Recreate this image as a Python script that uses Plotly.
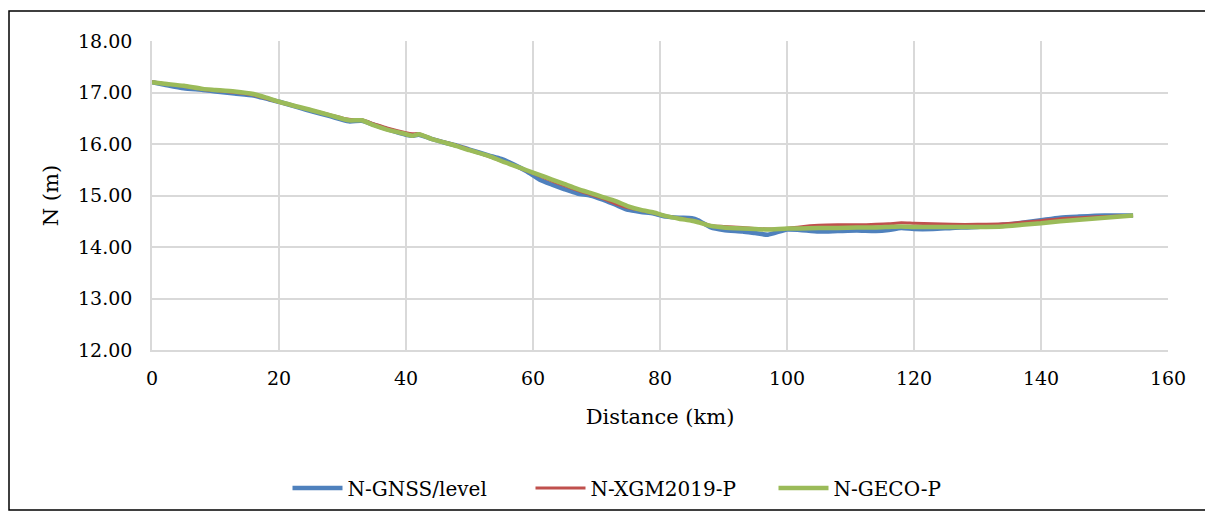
import plotly.graph_objects as go

distance_km = [0, 2, 5, 8, 10, 13, 16, 18, 20, 25, 28, 31, 33, 35, 37, 40, 41, 42, 44, 46,
               48, 50, 53, 55, 57, 59, 61, 63, 65, 67, 69, 71, 73, 75, 77, 79, 81, 83, 85, 86,
               88, 90, 93, 95, 97, 100, 102, 105, 108, 111, 114, 116, 118, 120, 123, 126, 130,
               134, 137, 140, 143, 146, 150, 154.5]

n_gnss_level = [17.20, 17.15, 17.08, 17.05, 17.02, 16.98, 16.94, 16.88, 16.82, 16.64, 16.54, 16.44,
                16.45, 16.37, 16.29, 16.18, 16.16, 16.18, 16.10, 16.03, 15.97, 15.89, 15.78, 15.71,
                15.60, 15.47, 15.31, 15.21, 15.12, 15.04, 15.00, 14.92, 14.82, 14.72, 14.68, 14.65,
                14.59, 14.57, 14.56, 14.52, 14.38, 14.33, 14.30, 14.27, 14.24, 14.34, 14.33, 14.30,
                14.31, 14.32, 14.31, 14.33, 14.37, 14.35, 14.35, 14.37, 14.39, 14.43, 14.47, 14.52,
                14.57, 14.59, 14.61, 14.61]

n_xgm2019_p = [17.21, 17.17, 17.12, 17.06, 17.04, 17.00, 16.95, 16.88, 16.81, 16.66, 16.57, 16.48,
               16.47, 16.39, 16.31, 16.22, 16.20, 16.20, 16.11, 16.04, 15.97, 15.89, 15.76, 15.67,
               15.58, 15.48, 15.38, 15.28, 15.19, 15.10, 15.02, 14.94, 14.84, 14.76, 14.71, 14.66,
               14.60, 14.56, 14.52, 14.49, 14.42, 14.40, 14.38, 14.36, 14.35, 14.36, 14.39, 14.42,
               14.43, 14.43, 14.44, 14.45, 14.47, 14.46, 14.45, 14.44, 14.44, 14.45, 14.48, 14.51,
               14.55, 14.57, 14.59, 14.61]

n_geco_p = [17.20, 17.17, 17.13, 17.07, 17.05, 17.02, 16.97, 16.90, 16.82, 16.66, 16.56, 16.46,
            16.46, 16.36, 16.28, 16.19, 16.16, 16.19, 16.10, 16.03, 15.96, 15.88, 15.77, 15.67,
            15.58, 15.49, 15.40, 15.31, 15.22, 15.13, 15.05, 14.97, 14.89, 14.79, 14.72, 14.67,
            14.60, 14.55, 14.51, 14.48, 14.41, 14.38, 14.36, 14.35, 14.34, 14.36, 14.36, 14.37,
            14.37, 14.38, 14.38, 14.39, 14.40, 14.39, 14.39, 14.39, 14.39, 14.40, 14.43, 14.46,
            14.50, 14.53, 14.57, 14.61]

x_ticks = [0, 20, 40, 60, 80, 100, 120, 140, 160]
y_ticks = [12, 13, 14, 15, 16, 17, 18]

FONT = "DejaVu Serif, Liberation Serif, serif"
FS_TICK = 19
FS_TITLE = 21
FS_LEG = 20

# page has an 8px body margin; figure coordinates are page coordinates minus 8
W, H = 1205, 507
L, T = 144, 33
PW, PH = 1016, 309
R = W - L - PW
B = H - T - PH

fig = go.Figure()
series = [
    ("N-GNSS/level", n_gnss_level, "#4F81BD", 4.5),
    ("N-XGM2019-P", n_xgm2019_p, "#C0504D", 3.0),
    ("N-GECO-P", n_geco_p, "#9BBB59", 4.5),
]
for name, vals, color, w in series:
    fig.add_trace(go.Scatter(
        x=distance_km, y=vals, name=name, mode="lines",
        line=dict(color=color, width=w, shape="spline", smoothing=0.6),
    ))

def px_x(fx):
    return (fx - L) / PW

def px_y(fy):
    return (T + PH - fy) / PH

fig.update_layout(
    width=W, height=H,
    margin=dict(l=L, r=R, t=T, b=B, autoexpand=False),
    paper_bgcolor="white", plot_bgcolor="white",
    font=dict(family=FONT, size=FS_TICK, color="black"),
    showlegend=True,
    legend=dict(orientation="h", x=0.5 - 8 / PW, xanchor="center", y=px_y(480), yanchor="middle",
                font=dict(family=FONT, size=FS_LEG), itemwidth=50, entrywidth=178,
                traceorder="normal"),
    xaxis=dict(range=[0, 160], tickvals=x_ticks, ticktext=[str(v) for v in x_ticks],
               showgrid=True, gridcolor="#D9D9D9", gridwidth=1.5,
               showline=True, linecolor="#D9D9D9", linewidth=1.5,
               zeroline=False, ticks="", ticklabelstandoff=10,
               tickfont=dict(family=FONT, size=FS_TICK),
               title=dict(text="Distance (km)", font=dict(family=FONT, size=FS_TITLE), standoff=22)),
    yaxis=dict(range=[12, 18], tickvals=y_ticks, ticktext=[f"{v:.2f}" for v in y_ticks],
               showgrid=True, gridcolor="#D9D9D9", gridwidth=1.5,
               showline=True, linecolor="#D9D9D9", linewidth=1.5,
               zeroline=False, ticks="", ticklabelstandoff=14,
               tickfont=dict(family=FONT, size=FS_TICK),
               title=dict(text="N (m)", font=dict(family=FONT, size=FS_TITLE), standoff=14)),
    shapes=[dict(type="rect", xref="paper", yref="paper",
                 x0=px_x(1), x1=px_x(1199), y0=px_y(502), y1=px_y(3),
                 line=dict(color="black", width=1.5), fillcolor="rgba(0,0,0,0)", layer="below")],
)

fig.write_html("out.html")
